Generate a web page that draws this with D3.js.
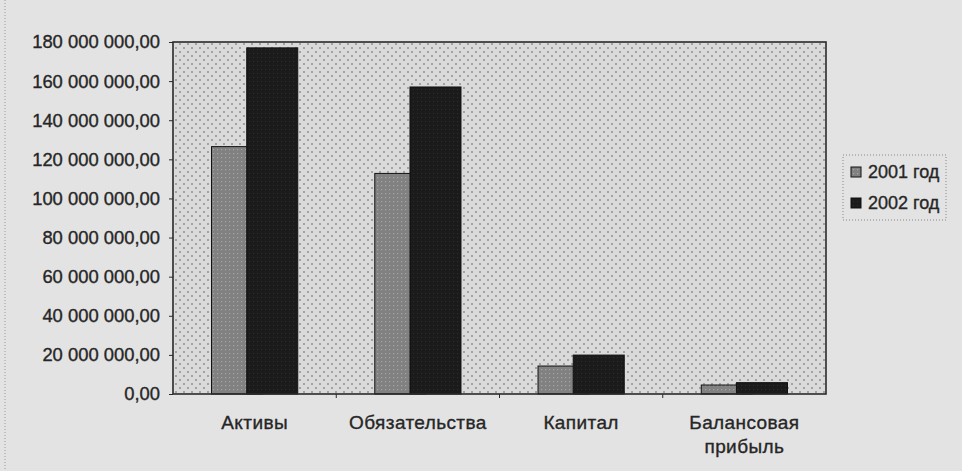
<!DOCTYPE html>
<html>
<head>
<meta charset="utf-8">
<script src="https://cdn.jsdelivr.net/npm/d3@7"></script>
<style>
  body { margin: 0; background: #e3e3e3; }
  svg { display: block; }
  text { font-family: "Liberation Sans", Arial, sans-serif; fill: #262626; stroke: #262626; stroke-width: 0.35px; }
</style>
</head>
<body>
<div class="chart"></div>
<script>
var categories = ['Активы', 'Обязательства', 'Капитал', 'Балансовая прибыль'];
var series = ['2001 год', '2002 год'];
var values2001 = [126.5e6, 112.8e6, 14.3e6, 4.6e6];
var values2002 = [177e6, 157e6, 19.9e6, 5.8e6];
var yTicks = [0, 20e6, 40e6, 60e6, 80e6, 100e6, 120e6, 140e6, 160e6, 180e6];

var width = 962,
  height = 471,
  plot = { left: 173, top: 42, right: 826, bottom: 394 };

var svg = d3
  .select('.chart')
  .append('svg')
  .attr('width', width)
  .attr('height', height);

var defs = svg.append('defs');

// plot area hatch (small x marks on a diagonal lattice)
var pa = defs
  .append('pattern')
  .attr('id', 'plotPat')
  .attr('patternUnits', 'userSpaceOnUse')
  .attr('width', 8)
  .attr('height', 8);
pa.append('rect').attr('width', 8).attr('height', 8).attr('fill', '#dadada');
pa.append('path')
  .attr(
    'd',
    'M3,3l2,2M5,3l-2,2' +
      'M-1,-1l2,2M1,-1l-2,2M7,-1l2,2M9,-1l-2,2' +
      'M-1,7l2,2M1,7l-2,2M7,7l2,2M9,7l-2,2'
  )
  .attr('stroke', '#a2a2a2')
  .attr('stroke-width', 1);

// 2001 bar fill
var pb = defs
  .append('pattern')
  .attr('id', 'bar2001')
  .attr('patternUnits', 'userSpaceOnUse')
  .attr('width', 4)
  .attr('height', 4);
pb.append('rect').attr('width', 4).attr('height', 4).attr('fill', '#818181');
pb.append('rect').attr('x', 1).attr('y', 1).attr('width', 1.2).attr('height', 1.2).attr('fill', '#a6a6a6');

// 2002 bar fill
var pc = defs
  .append('pattern')
  .attr('id', 'bar2002')
  .attr('patternUnits', 'userSpaceOnUse')
  .attr('width', 4)
  .attr('height', 4);
pc.append('rect').attr('width', 4).attr('height', 4).attr('fill', '#1b1b1b');
pc.append('rect').attr('x', 1).attr('y', 1).attr('width', 1).attr('height', 1).attr('fill', '#2e2e2e');

// left border of chart area
svg
  .append('line')
  .attr('x1', 5)
  .attr('x2', 5)
  .attr('y1', 0)
  .attr('y2', height)
  .attr('stroke', '#9a9a9a')
  .attr('stroke-dasharray', '1,2');

var x = d3
  .scaleBand()
  .domain(categories)
  .range([plot.left, plot.right]);

var y = d3
  .scaleLinear()
  .domain([0, 180e6])
  .range([plot.bottom, plot.top]);

svg
  .append('rect')
  .attr('x', plot.left)
  .attr('y', plot.top)
  .attr('width', plot.right - plot.left)
  .attr('height', plot.bottom - plot.top)
  .attr('fill', 'url(#plotPat)');

var barW = x.bandwidth() * 0.3125,
  step = barW * 0.69;

function barX(cat, i) {
  var c = x(cat) + x.bandwidth() / 2;
  return c - (step + barW) / 2 + i * step;
}

var data = [values2001, values2002];
var fills = ['url(#bar2001)', 'url(#bar2002)'];

data.forEach(function (vals, i) {
  svg
    .append('g')
    .selectAll('rect')
    .data(categories)
    .enter()
    .append('rect')
    .attr('x', function (d) { return barX(d, i); })
    .attr('y', function (d, j) { return y(vals[j]); })
    .attr('width', barW)
    .attr('height', function (d, j) { return plot.bottom - y(vals[j]); })
    .attr('fill', fills[i])
    .attr('stroke', '#111')
    .attr('stroke-width', 1);
});

svg
  .append('rect')
  .attr('x', plot.left)
  .attr('y', plot.top)
  .attr('width', plot.right - plot.left)
  .attr('height', plot.bottom - plot.top)
  .attr('fill', 'none')
  .attr('stroke', '#2a2a2a')
  .attr('stroke-width', 1.6);

// y axis
var fmt = function (v) {
  return d3.format(',.2f')(v).replace(/,/g, ' ').replace('.', ',');
};

var yAxis = svg
  .append('g')
  .attr('transform', 'translate(' + plot.left + ',0)')
  .call(d3.axisLeft(y).tickValues(yTicks).tickSize(4).tickPadding(9).tickFormat(fmt));
yAxis.select('.domain').remove();
yAxis.selectAll('line').attr('stroke', '#2a2a2a');
yAxis
  .selectAll('text')
  .style('font-size', '18.4px')
  .style('font-family', '"Liberation Sans", Arial, sans-serif')
  .attr('fill', '#262626');

// x axis ticks between categories
svg
  .append('g')
  .selectAll('line')
  .data(categories.slice(1))
  .enter()
  .append('line')
  .attr('x1', function (d) { return x(d); })
  .attr('x2', function (d) { return x(d); })
  .attr('y1', plot.bottom)
  .attr('y2', plot.bottom + 4)
  .attr('stroke', '#2a2a2a');

// category labels
var catLabels = svg
  .append('g')
  .selectAll('text')
  .data(categories)
  .enter()
  .append('text')
  .attr('text-anchor', 'middle')
  .style('font-size', '19px')
  .style('letter-spacing', '0.4px');

catLabels.each(function (d) {
  var t = d3.select(this);
  var words = d.split(' ');
  var cx = x(d) + x.bandwidth() / 2;
  words.forEach(function (w, k) {
    t.append('tspan')
      .attr('x', cx)
      .attr('y', 429 + k * 24)
      .text(w);
  });
});

// legend
var legend = svg.append('g');
legend
  .append('rect')
  .attr('x', 843)
  .attr('y', 155)
  .attr('width', 103)
  .attr('height', 65)
  .attr('fill', 'none')
  .attr('stroke', '#888')
  .attr('stroke-dasharray', '1,2');

series.forEach(function (s, i) {
  var ly = 167 + i * 31;
  legend
    .append('rect')
    .attr('x', 851)
    .attr('y', ly)
    .attr('width', 10)
    .attr('height', 10)
    .attr('fill', fills[i])
    .attr('stroke', '#111');
  legend
    .append('text')
    .attr('x', 868)
    .attr('y', ly + 11)
    .style('font-size', '18px')
    .text(s);
});
</script>
</body>
</html>
